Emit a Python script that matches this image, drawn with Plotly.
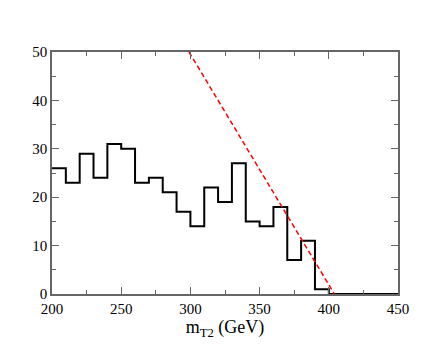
import plotly.graph_objects as go

# histogram of m_T2, 10 GeV bins from 200 GeV
bin_edges = [200, 210, 220, 230, 240, 250, 260, 270, 280, 290, 300,
             310, 320, 330, 340, 350, 360, 370, 380, 390, 400, 450]
counts = [26, 23, 29, 24, 31, 30, 23, 24, 21, 17, 14,
          22, 19, 27, 15, 14, 18, 7, 11, 1, 0, 0]

# red dashed endpoint line
line_x = [299, 404]
line_y = [50, 0]

serif = 'Times New Roman, Liberation Serif, serif'

fig = go.Figure()

fig.add_trace(go.Scatter(x=bin_edges, y=counts, mode='lines',
    line=dict(color='black', width=2, shape='hv'), showlegend=False))

fig.add_trace(go.Scatter(x=line_x, y=line_y, mode='lines',
    line=dict(color='#ff0000', width=1.5, dash='5px,3px'), showlegend=False))

axis_style = dict(showgrid=False, zeroline=False, showline=True,
    linecolor='#666666', linewidth=1.5, mirror='ticks',
    ticks='inside', ticklen=7, tickwidth=1.2, tickcolor='#666666',
    tickfont=dict(family=serif, size=15, color='black'))

fig.update_layout(
    width=448, height=346,
    margin=dict(l=44, r=58, t=44, b=60),
    plot_bgcolor='white', paper_bgcolor='white',
    xaxis=dict(range=[200, 450], tickvals=[200, 250, 300, 350, 400, 450],
               minor=dict(ticks='inside', ticklen=4, tickcolor='#666666', dtick=25, tick0=200),
               title=dict(text='m<sub>T2</sub> (GeV)', standoff=2,
                          font=dict(family=serif, size=18, color='black')),
               **axis_style),
    yaxis=dict(range=[0, 50], tickvals=[0, 10, 20, 30, 40, 50],
               minor=dict(ticks='inside', ticklen=4, tickcolor='#666666', dtick=5, tick0=0),
               **axis_style),
)

fig.write_html("out.html")
